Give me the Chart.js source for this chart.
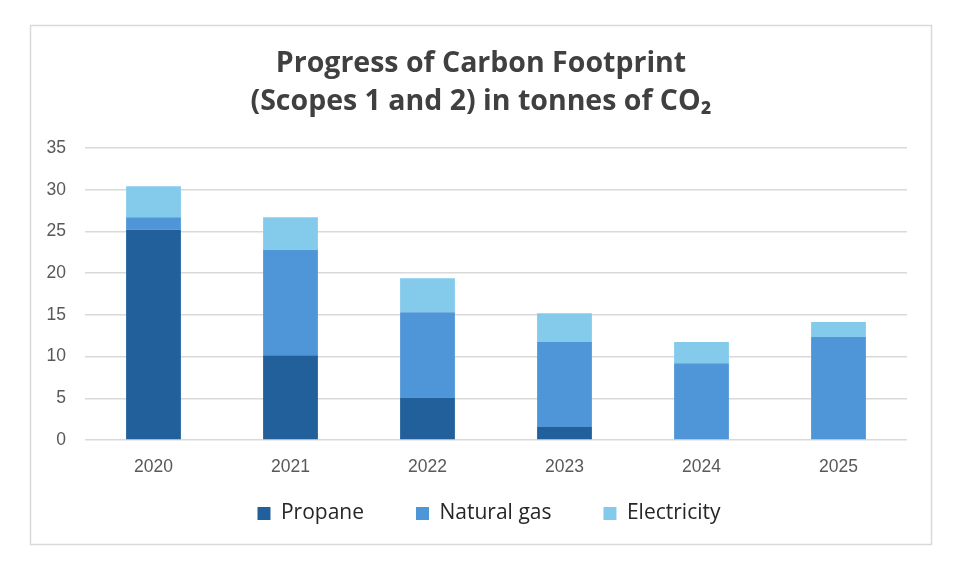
<!DOCTYPE html>
<html>
<head>
<meta charset="utf-8">
<script src="https://cdn.jsdelivr.net/npm/chart.js@4"></script>
<style>
  html, body { margin: 0; padding: 0; background: #fff; }
  #wrap { width: 967px; height: 575px; }
</style>
</head>
<body>
<div id="wrap"><canvas id="myChart" width="967" height="575"></canvas></div>
<script>
const years = ['2020', '2021', '2022', '2023', '2024', '2025'];
const propane = [25.2, 10.15, 5.1, 1.55, 0, 0];
const naturalGas = [1.5, 12.65, 10.2, 10.2, 9.2, 12.35];
const electricity = [3.7, 3.9, 4.1, 3.45, 2.55, 1.8];
const yTicks = [0, 5, 10, 15, 20, 25, 30, 35];

// frame round the whole chart
const framePlugin = {
    id: 'frame',
    beforeDraw(chart) {
        const c = chart.ctx;
        c.save();
        c.fillStyle = '#ffffff';
        c.fillRect(0, 0, chart.width, chart.height);
        c.strokeStyle = '#d9d9d9';
        c.lineWidth = 1.5;
        c.strokeRect(30.5, 25.5, 901, 519);
        c.restore();
    }
};

// nudge the legend up and a bit right, like the original
const legendShift = {
    id: 'legendShift',
    afterLayout(chart) {
        const lg = chart.legend;
        lg.top -= 34; lg.bottom -= 34;
        lg.left += 8; lg.right += 8;
    }
};

const ctx = document.getElementById('myChart').getContext('2d');

new Chart(ctx, {
    type: 'bar',
    data: {
        labels: years,
        datasets: [
            { label: 'Propane', data: propane, backgroundColor: '#21609b' },
            { label: 'Natural gas', data: naturalGas, backgroundColor: '#4f96d9' },
            { label: 'Electricity', data: electricity, backgroundColor: '#84cbeb' }
        ]
    },
    options: {
        responsive: false,
        animation: false,
        devicePixelRatio: 1,
        layout: { padding: { left: 30, right: 35, top: 0, bottom: 7 } },
        datasets: { bar: { categoryPercentage: 1, barPercentage: 0.4, borderWidth: 0 } },
        plugins: {
            title: {
                display: true,
                text: ['Progress of Carbon Footprint', '(Scopes 1 and 2) in tonnes of CO\u2082'],
                color: '#404040',
                font: { family: 'Open Sans', size: 28.5, weight: 'bold', lineHeight: 1.333 },
                padding: { top: 45, bottom: 27 }
            },
            legend: {
                position: 'bottom',
                labels: {
                    color: '#262626',
                    font: { family: 'Open Sans', size: 21 },
                    boxWidth: 13,
                    boxHeight: 13,
                    padding: 52
                }
            },
            tooltip: { enabled: false }
        },
        scales: {
            x: {
                stacked: true,
                grid: { display: false },
                border: { display: false },
                ticks: { color: '#595959', font: { family: 'Liberation Sans', size: 17.5 }, padding: 9 },
                afterFit(scale) { scale.height = 45; }
            },
            y: {
                stacked: true,
                min: 0,
                max: 35,
                afterBuildTicks(scale) { scale.ticks = yTicks.map(v => ({ value: v })); },
                grid: { color: '#d9d9d9', lineWidth: 1.5, drawTicks: false },
                border: { display: false },
                ticks: { color: '#595959', font: { family: 'Liberation Sans', size: 17.5 }, padding: 19 },
                afterFit(scale) { scale.width = 55; }
            },
            // empty right-hand axis, only keeps space on the right
            yRight: {
                position: 'right',
                grid: { display: false },
                border: { display: false },
                ticks: { display: false },
                afterFit(scale) { scale.width = 25; }
            }
        }
    },
    plugins: [framePlugin, legendShift]
});
</script>
</body>
</html>
